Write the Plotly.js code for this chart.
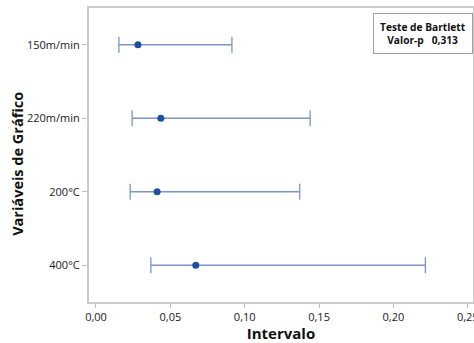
<!DOCTYPE html>
<html>
<head>
<meta charset="utf-8">
<script src="https://cdn.plot.ly/plotly-3.0.1.min.js"></script>
<style>html,body{margin:0;padding:0;background:#fff;}#chart{width:474px;height:343px;}</style>
</head>
<body>
<div id="chart"></div>
<script>
const categories = ["150m/min", "220m/min", "200°C", "400°C"];
const estimates = [0.0282, 0.0436, 0.0411, 0.0671];
const lowerBounds = [0.0154, 0.0243, 0.0230, 0.0369];
const upperBounds = [0.0914, 0.1440, 0.1370, 0.2215];
const xTickVals = [0, 0.05, 0.10, 0.15, 0.20, 0.25];
const xTickText = ["0,00", "0,05", "0,10", "0,15", "0,20", "0,25"];
const xTitle = "Intervalo";
const yTitle = "Variáveis de Gráfico";
const testName = "Teste de Bartlett";
const pValueLabel = "Valor-p";
const pValue = "0,313";

const yIdx = categories.map((c, i) => i);
const trace = {
  type: "scatter",
  mode: "markers",
  x: estimates,
  y: yIdx,
  marker: {color: "#1f4fa0", size: 7},
  error_x: {
    type: "data",
    symmetric: false,
    array: upperBounds.map((u, i) => u - estimates[i]),
    arrayminus: lowerBounds.map((l, i) => estimates[i] - l),
    color: "#7d93cc",
    thickness: 1.3,
    width: 8
  },
  hoverinfo: "none",
  showlegend: false
};

const font = "'Open Sans', 'Noto Sans', sans-serif";
const layout = {
  width: 474, height: 343,
  margin: {l: 89, r: 1, t: 8, b: 41},
  paper_bgcolor: "#fff", plot_bgcolor: "#fff",
  font: {family: font, color: "#1a1a1a", size: 11},
  xaxis: {
    range: [-0.0047, 0.2535],
    tickvals: xTickVals, ticktext: xTickText,
    ticks: "outside", ticklen: 4, tickcolor: "#bdbdbd", tickwidth: 1,
    ticklabeloverflow: "allow",
    showgrid: false, zeroline: false,
    showline: true, linecolor: "#cccccc", linewidth: 2, mirror: true,
    tickfont: {size: 11, color: "#1a1a1a", family: font},
    title: {text: "<b>" + xTitle + "</b>", font: {size: 15, color: "#111", family: font}, standoff: 10},
    automargin: false
  },
  yaxis: {
    range: [3.5, -0.5],
    tickvals: yIdx, ticktext: categories,
    ticks: "outside", ticklen: 5, tickcolor: "#bdbdbd", tickwidth: 1,
    showgrid: false, zeroline: false,
    showline: true, linecolor: "#cccccc", linewidth: 2, mirror: true,
    tickfont: {size: 11, color: "#1a1a1a", family: font},
    automargin: false
  },
  annotations: [{
    xref: "paper", yref: "paper",
    x: 0, xshift: -71, y: 0.47, xanchor: "center", yanchor: "middle",
    text: "<b>" + yTitle + "</b>", textangle: -90, showarrow: false,
    font: {size: 14.5, color: "#111", family: font}
  }, {
    xref: "paper", yref: "paper",
    x: 0.9995, y: 0.982, xanchor: "right", yanchor: "top",
    text: "<b>" + testName + "</b><br><b>" + pValueLabel + "   " + pValue + "</b>",
    showarrow: false, align: "center",
    font: {size: 10.2, color: "#111", family: font},
    bordercolor: "#a0a0a0", borderwidth: 1, borderpad: 6, bgcolor: "#fff"
  }]
};

Plotly.newPlot("chart", [trace], layout, {staticPlot: true, displayModeBar: false});
</script>
</body>
</html>
